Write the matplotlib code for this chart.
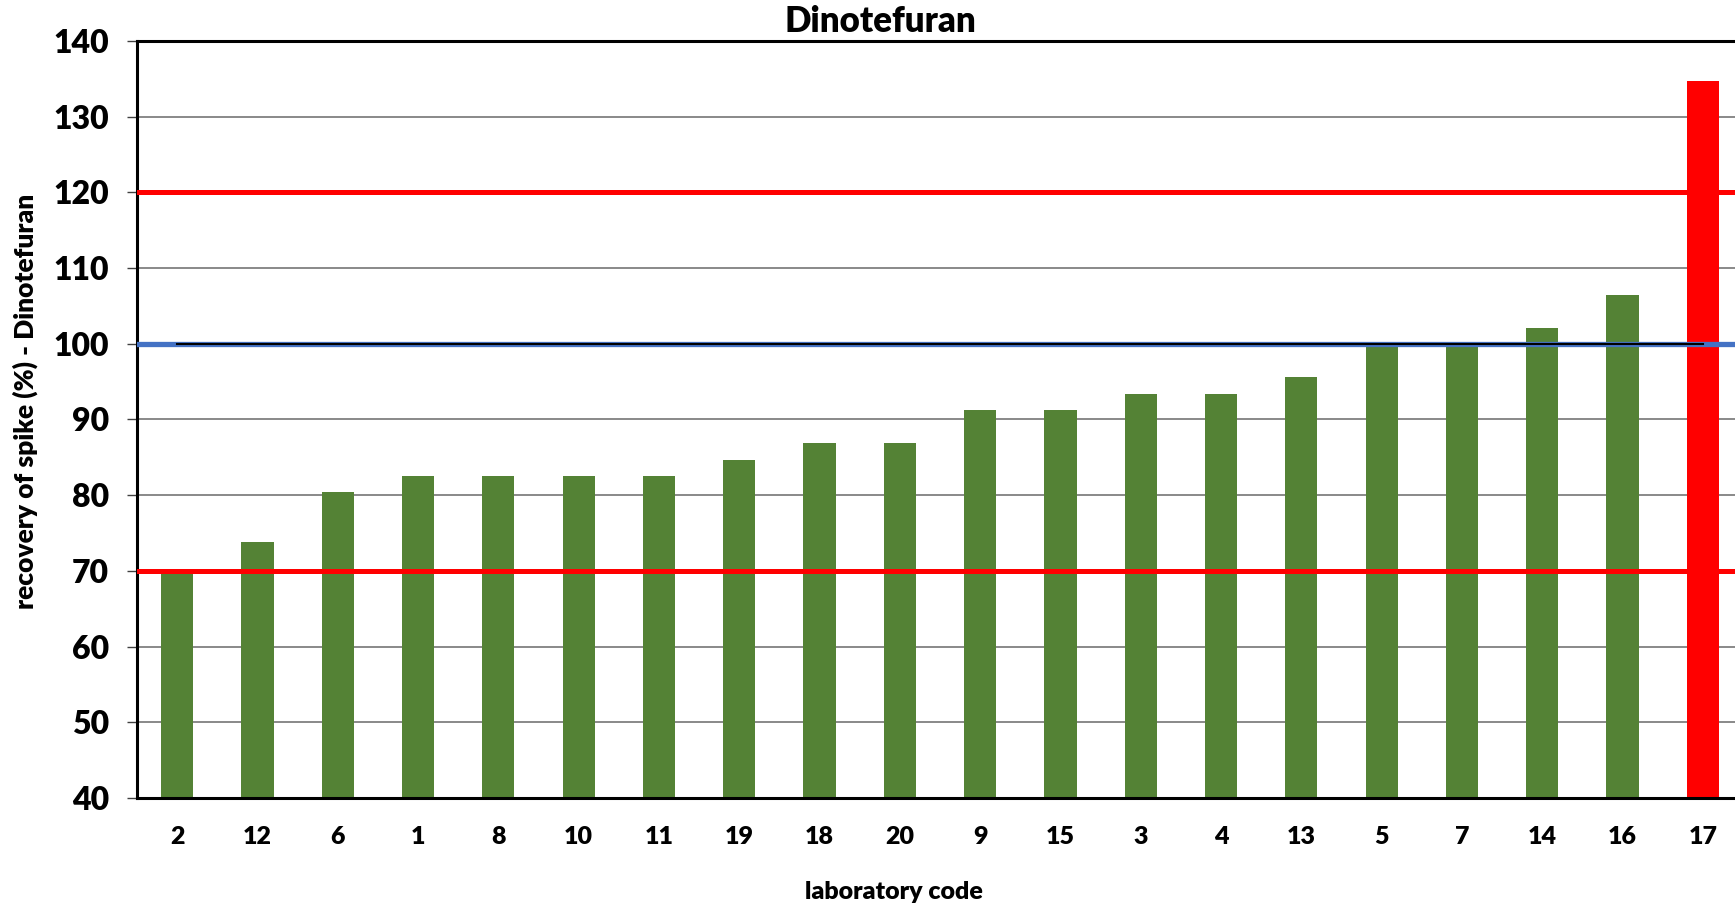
import matplotlib.pyplot as plt

lab_codes = ['2', '12', '6', '1', '8', '10', '11', '19', '18', '20',
             '9', '15', '3', '4', '13', '5', '7', '14', '16', '17']
recovery = [70.0, 73.8, 80.4, 82.6, 82.6, 82.6, 82.6, 84.7, 86.9, 86.9,
            91.2, 91.2, 93.4, 93.4, 95.6, 99.6, 99.6, 102.1, 106.4, 134.7]
lower_limit = 70
upper_limit = 120
target = 100

plt.rcParams['font.family'] = ['Lato', 'DejaVu Sans']
W = 'heavy'

fig = plt.figure(figsize=(17.35, 9.07), dpi=100)
ax = fig.add_axes([137 / 1735, 1 - 798 / 907, 1606 / 1735, 757 / 907])

x = list(range(len(lab_codes)))
colors = ['#FF0000' if (v > upper_limit or v < lower_limit) else '#548235' for v in recovery]
ax.bar(x, recovery, width=0.4, color=colors, zorder=2)

ax.axhline(upper_limit, color='#FF0000', lw=3.6, zorder=3)
ax.axhline(lower_limit, color='#FF0000', lw=3.6, zorder=3)
ax.axhline(target, color='#4472C4', lw=3.8, zorder=3)
ax.plot([x[0], x[-1]], [target, target], color='black', lw=1.5, zorder=4)

ax.set_xlim(-0.5, len(lab_codes) - 0.5)
ax.set_ylim(40, 140)
ax.set_yticks(range(40, 141, 10))
ax.set_xticks(x)
ax.set_xticklabels(lab_codes)
ax.yaxis.grid(True, color='#808080', lw=1.3, zorder=0)
ax.set_axisbelow(True)

for s in ['left', 'bottom', 'top']:
    ax.spines[s].set_linewidth(2.2)
    ax.spines[s].set_color('black')
ax.spines['right'].set_visible(False)

ax.tick_params(axis='y', length=7, width=1, color='#404040', pad=13, labelsize=23)
ax.tick_params(axis='x', length=0, pad=20, labelsize=18)
for lbl in ax.get_xticklabels() + ax.get_yticklabels():
    lbl.set_fontweight(W)

fig.text(880 / 1735, 1 - 22 / 907, 'Dinotefuran', ha='center', va='center',
         fontsize=25, fontweight=W)
fig.text(894 / 1735, 1 - 892 / 907, 'laboratory code', ha='center', va='center',
         fontsize=18, fontweight=W)
fig.text(25 / 1735, 1 - 401 / 907, 'recovery of spike (%) - Dinotefuran', ha='center',
         va='center', rotation=90, fontsize=19, fontweight=W)

fig.savefig('out.png', dpi=100)
